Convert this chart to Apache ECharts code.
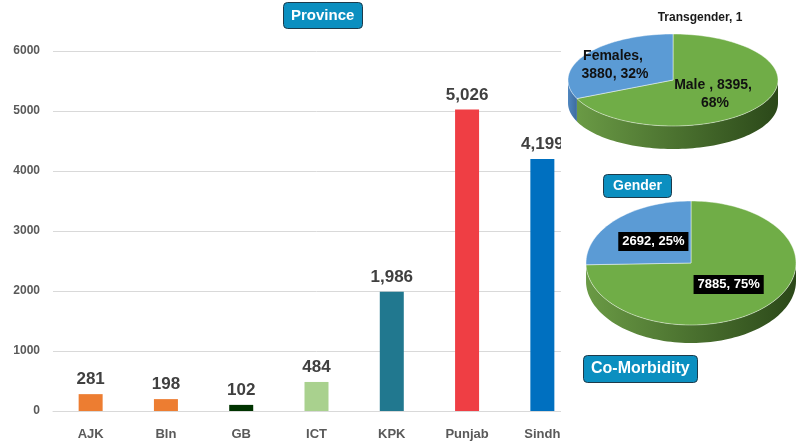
<!DOCTYPE html>
<html>
<head>
<meta charset="utf-8">
<script src="https://cdn.jsdelivr.net/npm/echarts@6/dist/echarts.min.js"></script>
<style>
  html, body { margin: 0; padding: 0; background: #fff; }
  #main { width: 807px; height: 441px; }
</style>
</head>
<body>
<div id="main"></div>
<script>
// province bars
var provinces = ['AJK', 'Bln', 'GB', 'ICT', 'KPK', 'Punjab', 'Sindh'];
var provinceCases = [281, 198, 102, 484, 1986, 5026, 4199];
var provinceColors = ['#ed7d31', '#ed7d31', '#003300', '#a9d18e', '#21788f', '#ef3e44', '#0070c0'];
var yTicks = [0, 1000, 2000, 3000, 4000, 5000, 6000];

// gender pie (clockwise from 12 o'clock)
var genderNames = ['Transgender', 'Male ', 'Females'];
var genderValues = [1, 8395, 3880];

// co-morbidity pie
var comorbValues = [7885, 2692];

var font = '"Liberation Sans", Arial, sans-serif';

function buildSlices(values) {
  var total = values.reduce(function (a, b) { return a + b; }, 0);
  var acc = 0;
  return values.map(function (v) {
    var a0 = acc / total * 360;
    acc += v;
    return [a0, acc / total * 360, v, Math.round(v / total * 100)];
  });
}

function pie3d(slices, geo, topColors, sideColors, labelOf) {
  function pt(deg, dy, k) {
    var r = deg * Math.PI / 180;
    k = k || 1;
    return [geo.cx + geo.rx * k * Math.sin(r), geo.cy - geo.ry * k * Math.cos(r) + (dy || 0)];
  }
  function arc(a, b, dy) {
    var pts = [];
    var n = Math.max(2, Math.ceil((b - a) / 2));
    for (var i = 0; i <= n; i++) pts.push(pt(a + (b - a) * i / n, dy));
    return pts;
  }
  return {
    type: 'custom',
    coordinateSystem: 'none',
    silent: true,
    z: 5,
    data: slices,
    renderItem: function (params, api) {
      var s = slices[params.dataIndex];
      var children = [];
      var lo = Math.max(s[0], 90), hi = Math.min(s[1], 270);
      if (hi > lo) {
        var sidePts = arc(lo, hi, 0).concat(arc(lo, hi, geo.t).reverse());
        children.push({
          type: 'polygon',
          shape: { points: sidePts },
          style: {
            fill: new echarts.graphic.LinearGradient(0, 0, 1, 0, [
              { offset: 0, color: sideColors[params.dataIndex][0] },
              { offset: 1, color: sideColors[params.dataIndex][1] }
            ]),
            stroke: null
          }
        });
      }
      var topPts = [[geo.cx, geo.cy]].concat(arc(s[0], s[1], 0));
      children.push({
        type: 'polygon',
        shape: { points: topPts },
        style: { fill: topColors[params.dataIndex], stroke: 'rgba(255,255,255,0.45)', lineWidth: 1 }
      });
      var lab = labelOf(params.dataIndex, s);
      if (lab) {
        var frac = (s[1] - s[0]) / 360;
        var p = frac < 0.01 ? [geo.cx + 27, geo.cy - geo.ry - 16] : pt((s[0] + s[1]) / 2, 0, geo.k);
        if (lab.dx) p[0] += lab.dx;
        children.push({
          type: 'text',
          x: p[0],
          y: p[1],
          z2: 10,
          style: Object.assign({
            text: lab.text,
            align: 'center',
            verticalAlign: 'middle',
            fontFamily: font,
            fontWeight: 'bold'
          }, lab.style)
        });
      }
      return { type: 'group', children: children };
    }
  };
}

var greenSide = ['#6a9a45', '#2b4819'];
var blueSide = ['#4f86bf', '#3d6c9e'];

var genderSlices = buildSlices(genderValues);
var comorbSlices = buildSlices(comorbValues);

var chart = echarts.init(document.getElementById('main'), null, { renderer: 'canvas' });

var titleBox = {
  backgroundColor: '#0b8fc0',
  borderColor: '#1d3a4a',
  borderWidth: 1,
  borderRadius: 4,
  textStyle: { color: '#fff', fontWeight: 'bold', fontFamily: font }
};

var option = {
  animation: false,
  backgroundColor: '#fff',
  title: [
    Object.assign({}, titleBox, { text: 'Province', left: 283, top: 2, padding: [6, 8], z: 10,
      textStyle: Object.assign({}, titleBox.textStyle, { fontSize: 15 }) }),
    Object.assign({}, titleBox, { text: 'Gender', left: 603, top: 174, padding: [5, 10], z: 10,
      textStyle: Object.assign({}, titleBox.textStyle, { fontSize: 14 }) }),
    Object.assign({}, titleBox, { text: 'Co-Morbidity', left: 583, top: 355, padding: [6, 8], z: 10,
      textStyle: Object.assign({}, titleBox.textStyle, { fontSize: 16 }) })
  ],
  grid: { left: 53, right: 227, top: 51, bottom: 30 },
  xAxis: {
    type: 'category',
    data: provinces,
    axisTick: { show: false },
    axisLine: { lineStyle: { color: '#d9d9d9' } },
    axisLabel: { color: '#595959', fontWeight: 'bold', fontSize: 13, fontFamily: font, margin: 17 }
  },
  yAxis: {
    type: 'value',
    min: yTicks[0],
    max: yTicks[yTicks.length - 1],
    interval: 1000,
    axisLine: { show: false },
    axisTick: { show: false },
    splitLine: { lineStyle: { color: '#d9d9d9' } },
    axisLabel: {
      color: '#595959', fontWeight: 'bold', fontSize: 12, fontFamily: font, margin: 13,
      formatter: function (v) { return String(v); }
    }
  },
  graphic: [
    { type: 'rect', shape: { x: 561, y: 0, width: 246, height: 441 }, style: { fill: '#fff' }, z: 4, silent: true }
  ],
  series: [
    {
      type: 'bar',
      barWidth: 24,
      z: 2,
      data: provinceCases.map(function (v, i) {
        return { value: v, itemStyle: { color: provinceColors[i] } };
      }),
      label: {
        show: true,
        position: 'top',
        distance: 6,
        color: '#404040',
        fontWeight: 'bold',
        fontSize: 17,
        fontFamily: font,
        formatter: function (p) { return p.value.toLocaleString('en-US'); }
      }
    },
    pie3d(genderSlices, { cx: 673, cy: 80, rx: 105, ry: 46, t: 23, k: 0.58 },
      ['#a5a5a5', '#70ad47', '#5b9bd5'],
      [greenSide, greenSide, blueSide],
      function (i, s) {
        var txt = genderNames[i] + ', ' + s[2];
        if (i === 0) return { text: txt, style: { fill: '#1a1a1a', fontSize: 12 } };
        return {
          text: txt + ', ' + s[3] + '%',
          dx: i === 1 ? -9 : -7,
          style: { fill: '#111', fontSize: 14, width: 92, overflow: 'break', lineHeight: 18 }
        };
      }),
    pie3d(comorbSlices, { cx: 691, cy: 263, rx: 105, ry: 62, t: 18, k: 0.5 },
      ['#70ad47', '#5b9bd5'],
      [greenSide, blueSide],
      function (i, s) {
        return {
          text: s[2] + ', ' + s[3] + '%',
          style: { fill: '#fff', fontSize: 13, backgroundColor: '#000', padding: [3, 4] }
        };
      })
  ]
};

chart.setOption(option);
</script>
</body>
</html>
